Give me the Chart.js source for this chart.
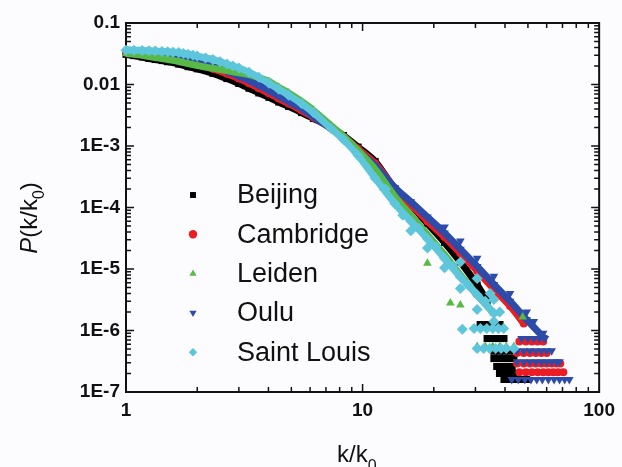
<!DOCTYPE html>
<html>
<head>
<meta charset="utf-8">
<script src="https://cdn.jsdelivr.net/npm/chart.js@4.4.1/dist/chart.umd.min.js"></script>
<style>
  html, body { margin: 0; padding: 0; background: #fcfcfe; }
  #wrap { width: 622px; height: 467px; }
</style>
</head>
<body>
<div id="wrap"><canvas id="c" width="622" height="467"></canvas></div>
<script>
(function() {
  'use strict';

  // ---- data: [k/k0, P(k/k0)] ----
  var seriesNames = ['Beijing', 'Cambridge', 'Leiden', 'Oulu', 'Saint Louis'];

  var beijing = [
    [1.00, 0.031], [1.08, 0.0295], [1.17, 0.028], [1.25, 0.0265], [1.33, 0.0255], [1.42, 0.0245],
    [1.50, 0.0235], [1.67, 0.0215], [1.83, 0.0195], [2.00, 0.018], [2.33, 0.0152], [2.67, 0.0125],
    [3.00, 0.0104], [3.31, 0.0087], [3.64, 0.0073], [4.02, 0.0062], [4.42, 0.0052], [4.87, 0.0044],
    [5.52, 0.0035], [6.2, 0.0028], [7.38, 0.0020], [8.3, 0.00148], [9.57, 9.6e-4], [11.3, 5.6e-4],
    [13.7, 2.0e-4], [16.0, 1.1e-4], [18.8, 5.5e-5], [22.2, 2.7e-5], [25.9, 1.3e-5], [30.5, 5.5e-6],
    [33.6, 3.0e-6]
  ];
  var beijingTail = [
    [31.4, 1.25e-6], [33.5, 1.25e-6], [35.8, 1.25e-6], [38.1, 1.25e-6],
    [33.6, 7.4e-7], [35.6, 7.4e-7], [37.6, 7.4e-7], [39.6, 7.4e-7],
    [35.9, 4.6e-7], [37.9, 4.6e-7], [39.9, 4.6e-7], [41.9, 4.6e-7],
    [35.9, 3.5e-7], [37.9, 3.5e-7], [39.9, 3.5e-7], [41.9, 3.5e-7], [43.6, 3.5e-7],
    [36.9, 2.6e-7], [38.9, 2.6e-7], [40.9, 2.6e-7], [42.9, 2.6e-7],
    [37.9, 2.0e-7], [39.9, 2.0e-7], [41.9, 2.0e-7], [43.6, 2.0e-7],
    [39.6, 1.6e-7], [41.9, 1.6e-7], [44.3, 1.6e-7], [46.8, 1.6e-7], [49.4, 1.6e-7]
  ];

  var cambridge = [
    [1.00, 0.0328], [1.08, 0.032], [1.17, 0.031], [1.25, 0.0298], [1.33, 0.0288], [1.42, 0.0278],
    [1.50, 0.027], [1.67, 0.025], [1.83, 0.023], [2.00, 0.0215], [2.33, 0.018], [2.67, 0.015],
    [3.00, 0.0125], [3.31, 0.0105], [3.64, 0.0087], [4.02, 0.0072], [4.42, 0.0059], [4.87, 0.0049],
    [5.52, 0.0038], [6.2, 0.0029], [7.38, 0.00195], [8.3, 0.00142], [9.57, 9.0e-4], [11.3, 5.2e-4],
    [13.7, 2.05e-4], [16.0, 1.12e-4], [18.8, 6.0e-5], [22.2, 3.3e-5], [25.9, 1.8e-5], [30.5, 9.3e-6],
    [35.9, 4.7e-6], [42.0, 2.5e-6], [48.0, 1.3e-6]
  ];
  var cambridgeTail = [
    [46, 6.6e-7], [49, 6.6e-7], [52, 6.6e-7], [55, 6.6e-7], [58, 6.6e-7],
    [45, 4.3e-7], [48, 4.3e-7], [51, 4.3e-7], [54, 4.3e-7], [57, 4.3e-7], [60, 4.3e-7],
    [45, 2.9e-7], [48, 2.9e-7], [51, 2.9e-7], [54, 2.9e-7], [57, 2.9e-7], [60, 2.9e-7], [63, 2.9e-7],
    [66, 2.9e-7], [68.5, 2.9e-7],
    [46, 2.1e-7], [49, 2.1e-7], [52, 2.1e-7], [55, 2.1e-7], [58, 2.1e-7], [61, 2.1e-7], [64, 2.1e-7],
    [67, 2.1e-7], [70.6, 2.1e-7]
  ];

  var leiden = [
    [1.00, 0.032], [1.08, 0.031], [1.17, 0.0298], [1.25, 0.0285], [1.33, 0.0275], [1.42, 0.0265],
    [1.50, 0.0255], [1.67, 0.0237], [1.83, 0.0218], [2.00, 0.0203], [2.33, 0.0183], [2.67, 0.0168],
    [3.00, 0.0155], [3.31, 0.0145], [3.64, 0.013], [4.02, 0.0112], [4.42, 0.009], [4.87, 0.0073],
    [5.52, 0.0053], [6.2, 0.0038], [7.38, 0.00212], [8.3, 0.00145], [9.57, 8.5e-4], [11.3, 4.2e-4],
    [13.7, 1.5e-4], [16.0, 7.5e-5], [18.8, 3.6e-5], [22.2, 1.7e-5], [25.9, 8.0e-6], [30.5, 3.8e-6],
    [35.9, 1.9e-6]
  ];
  var leidenTail = [
    [12.2, 2.1e-4], [13.9, 1.15e-4], [18.8, 1.24e-5], [23.5, 2.8e-6], [25.9, 2.6e-6], [47.5, 1.65e-6],
    [30.5, 5.5e-7], [33, 5.5e-7], [35.5, 5.5e-7], [38, 5.5e-7], [40.5, 5.5e-7], [43.6, 5.5e-7]
  ];

  var oulu = [
    [1.00, 0.0336], [1.08, 0.033], [1.17, 0.0322], [1.25, 0.031], [1.33, 0.030], [1.42, 0.029],
    [1.50, 0.0282], [1.67, 0.0265], [1.83, 0.0245], [2.00, 0.0233], [2.33, 0.0195], [2.67, 0.0164],
    [3.00, 0.0136], [3.31, 0.0117], [3.64, 0.0097], [4.02, 0.0080], [4.42, 0.0065], [4.87, 0.0053],
    [5.52, 0.0041], [6.2, 0.0030], [7.38, 0.0019], [8.3, 0.00137], [9.57, 8.4e-4], [11.3, 4.8e-4],
    [13.7, 2.1e-4], [16.0, 1.24e-4], [18.8, 7.0e-5], [22.2, 3.85e-5], [25.9, 2.1e-5], [30.5, 1.1e-5],
    [35.9, 5.6e-6], [42.0, 3.0e-6], [49.4, 1.5e-6], [58.2, 7.7e-7]
  ];
  var ouluTail = [
    [22.2, 4.8e-5], [25.9, 2.85e-5], [30.5, 1.5e-5], [35.9, 7.6e-6], [42.0, 4.0e-6], [49.4, 2.0e-6],
    [52.9, 1.4e-6], [58.0, 9.0e-7],
    [47, 7.4e-7], [50, 7.4e-7], [53, 7.4e-7], [56, 7.4e-7], [59, 7.4e-7],
    [45, 4.7e-7], [48, 4.7e-7], [51, 4.7e-7], [54, 4.7e-7], [57, 4.7e-7], [60, 4.7e-7], [63, 4.7e-7],
    [45, 3.1e-7], [48, 3.1e-7], [51, 3.1e-7], [54, 3.1e-7], [57, 3.1e-7], [60, 3.1e-7], [63, 3.1e-7],
    [66, 3.1e-7], [68, 3.1e-7],
    [42.7, 1.6e-7], [45.5, 1.6e-7], [48.5, 1.6e-7], [51.5, 1.6e-7], [54.5, 1.6e-7], [57.5, 1.6e-7],
    [61, 1.6e-7], [64.5, 1.6e-7], [68, 1.6e-7], [71.5, 1.6e-7], [74.8, 1.6e-7]
  ];

  var saintLouis = [
    [1.00, 0.036], [1.08, 0.036], [1.17, 0.0358], [1.25, 0.0355], [1.33, 0.035], [1.42, 0.0345],
    [1.50, 0.034], [1.58, 0.0335], [1.67, 0.033], [1.75, 0.032], [1.83, 0.031], [1.92, 0.030],
    [2.00, 0.029], [2.17, 0.027], [2.33, 0.0255], [2.50, 0.0235], [2.67, 0.0215], [2.83, 0.020],
    [3.00, 0.0185], [3.31, 0.0158], [3.64, 0.0131], [4.02, 0.0105], [4.42, 0.0084], [4.87, 0.0067],
    [5.52, 0.0049], [6.2, 0.0035], [7.38, 0.0019], [8.3, 0.00127], [9.57, 7.0e-4], [11.3, 3.0e-4],
    [13.7, 1.15e-4], [16.0, 6.0e-5], [18.8, 3.1e-5], [22.2, 1.5e-5], [25.9, 7.4e-6], [30.5, 3.8e-6],
    [35.9, 1.9e-6]
  ];
  var saintLouisTail = [
    [12.5, 2.0e-4], [14.8, 7.5e-5], [16.0, 4.2e-5], [17.3, 4.6e-5], [18.8, 2.2e-5], [20.4, 2.3e-5],
    [22.2, 1.05e-5], [24.0, 1.1e-5], [25.9, 4.8e-6], [30.5, 2.2e-6], [35.9, 1.4e-6],
    [25.9, 1.3e-5], [30.5, 7.0e-6], [35.9, 3.2e-6], [28, 5.5e-6], [33, 3.0e-6], [38, 2.0e-6],
    [26.4, 1.05e-6], [34.6, 4.0e-6],
    [29.6, 1.08e-6], [31.5, 1.08e-6], [33.5, 1.08e-6], [35.5, 1.08e-6], [37.5, 1.08e-6], [39.5, 1.08e-6],
    [30.5, 5.1e-7], [32.5, 5.1e-7], [34.5, 5.1e-7], [36.5, 5.1e-7], [38.5, 5.1e-7], [40.5, 5.1e-7],
    [43.6, 5.1e-7]
  ];

  var xTickValues = [1, 10, 100];
  var xTickLabels = ['1', '10', '100'];
  var yTickValues = [1e-7, 1e-6, 1e-5, 1e-4, 1e-3, 0.01, 0.1];
  var yTickLabels = ['1E-7', '1E-6', '1E-5', '1E-4', '1E-3', '0.01', '0.1'];

  // ---- styles ----
  var FONT = "'Liberation Sans', Arial, Helvetica, sans-serif";
  var INK = '#111111';
  var styles = [
    { color: '#000000', point: 'rect', rot: 0, r: 5, order: 5 },
    { color: '#ec1c24', point: 'circle', rot: 0, r: 4, order: 4 },
    { color: '#58b947', point: 'triangle', rot: 0, r: 5, order: 2 },
    { color: '#2d4ba8', point: 'triangle', rot: 180, r: 5, order: 3 },
    { color: '#5ec6da', point: 'rectRot', rot: 0, r: 5.5, order: 1 }
  ];
  var mains = [beijing, cambridge, leiden, oulu, saintLouis];
  var tails = [beijingTail, cambridgeTail, leidenTail, ouluTail, saintLouisTail];

  function toPoints(arr) {
    return arr.map(function(p) { return { x: p[0], y: p[1] }; });
  }

  var datasets = [];
  for (var i = 0; i < seriesNames.length; i++) {
    var s = styles[i];
    var common = {
      label: seriesNames[i],
      backgroundColor: s.color,
      borderColor: s.color,
      pointStyle: s.point,
      pointRotation: s.rot,
      pointRadius: s.r,
      pointBorderWidth: 0,
      order: s.order,
      clip: false
    };
    datasets.push(Object.assign({}, common, {
      data: toPoints(mains[i]),
      showLine: true,
      borderWidth: 7,
      tension: 0.3
    }));
    datasets.push(Object.assign({}, common, {
      label: seriesNames[i] + ' tail',
      data: toPoints(tails[i]),
      showLine: false
    }));
  }

  /** frame + inward ticks on all four sides, titles, legend */
  var framePlugin = {
    id: 'frame',
    beforeDatasetsDraw: function(chart) {
      var ctx = chart.ctx, a = chart.chartArea;
      var xs = chart.scales.x, ys = chart.scales.y;
      ctx.save();
      ctx.strokeStyle = INK;
      ctx.lineWidth = 1.5;
      ctx.beginPath();
      var e, m, v, p, len;
      for (e = 0; e < 2; e++) {
        for (m = 1; m <= 9; m++) {
          v = m * Math.pow(10, e);
          p = xs.getPixelForValue(v);
          len = m === 1 ? 8 : 5;
          ctx.moveTo(p, a.bottom); ctx.lineTo(p, a.bottom - len);
          ctx.moveTo(p, a.top); ctx.lineTo(p, a.top + len);
        }
      }
      for (e = -7; e < -1; e++) {
        for (m = 1; m <= 9; m++) {
          v = m * Math.pow(10, e);
          p = ys.getPixelForValue(v);
          len = m === 1 ? 8 : 5;
          ctx.moveTo(a.left, p); ctx.lineTo(a.left + len, p);
          ctx.moveTo(a.right, p); ctx.lineTo(a.right - len, p);
        }
      }
      ctx.stroke();
      ctx.lineWidth = 2;
      ctx.strokeRect(a.left, a.top, a.right - a.left, a.bottom - a.top);
      ctx.restore();
    },
    afterDraw: function(chart) {
      var ctx = chart.ctx;
      ctx.save();
      ctx.fillStyle = INK;

      // x title: k/k0
      ctx.textBaseline = 'alphabetic';
      ctx.textAlign = 'left';
      ctx.font = '24px ' + FONT;
      var w1 = ctx.measureText('k/k').width;
      ctx.fillText('k/k', 337, 462);
      ctx.font = '16px ' + FONT;
      ctx.fillText('0', 337 + w1, 471);

      // y title: P(k/k0)
      ctx.save();
      ctx.translate(37, 218);
      ctx.rotate(-Math.PI / 2);
      ctx.font = 'italic 24px ' + FONT;
      var wP = ctx.measureText('P').width;
      ctx.font = '24px ' + FONT;
      var wA = ctx.measureText('(k/k').width;
      var wB = ctx.measureText(')').width;
      ctx.font = '16px ' + FONT;
      var w0 = ctx.measureText('0').width;
      var x0 = -(wP + wA + w0 + wB) / 2;
      ctx.font = 'italic 24px ' + FONT;
      ctx.fillText('P', x0, 0);
      ctx.font = '24px ' + FONT;
      ctx.fillText('(k/k', x0 + wP, 0);
      ctx.font = '16px ' + FONT;
      ctx.fillText('0', x0 + wP + wA, 7);
      ctx.font = '24px ' + FONT;
      ctx.fillText(')', x0 + wP + wA + w0, 0);
      ctx.restore();

      // legend inside the plot
      ctx.font = '27px ' + FONT;
      ctx.textBaseline = 'middle';
      for (var j = 0; j < seriesNames.length; j++) {
        var ly = 195 + j * 39.3;
        ctx.fillStyle = styles[j].color;
        Chart.helpers.drawPoint(ctx, {
          pointStyle: styles[j].point, rotation: styles[j].rot, radius: 4.2, borderWidth: 0
        }, 193, ly);
        ctx.fillStyle = INK;
        ctx.fillText(seriesNames[j], 237, ly + 1);
      }
      ctx.restore();
    }
  };

  var tickFont = { family: FONT, size: 19, weight: 'bold' };

  new Chart(document.getElementById('c'), {
    type: 'scatter',
    data: { datasets: datasets },
    plugins: [framePlugin],
    options: {
      responsive: false,
      animation: false,
      devicePixelRatio: 1,
      events: [],
      layout: { padding: { top: 23, right: 18, left: 0, bottom: 0 } },
      plugins: { legend: { display: false }, tooltip: { enabled: false } },
      scales: {
        x: {
          type: 'logarithmic',
          min: 1,
          max: 100,
          grid: { display: false, drawTicks: false },
          border: { display: false },
          afterBuildTicks: function(scale) {
            scale.ticks = xTickValues.map(function(v) { return { value: v }; });
          },
          afterFit: function(scale) { scale.height = 75; },
          ticks: {
            autoSkip: false,
            maxRotation: 0,
            padding: 7,
            color: INK,
            font: tickFont,
            callback: function(v) {
              var idx = xTickValues.indexOf(v);
              return idx >= 0 ? xTickLabels[idx] : '';
            }
          }
        },
        y: {
          type: 'logarithmic',
          min: 1e-7,
          max: 0.1,
          grid: { display: false, drawTicks: false },
          border: { display: false },
          afterBuildTicks: function(scale) {
            scale.ticks = yTickValues.map(function(v) { return { value: v }; });
          },
          afterFit: function(scale) { scale.width = 126; },
          ticks: {
            autoSkip: false,
            padding: 6,
            color: INK,
            font: tickFont,
            callback: function(v) {
              for (var k = 0; k < yTickValues.length; k++) {
                if (Math.abs(Math.log10(v) - Math.log10(yTickValues[k])) < 1e-6) return yTickLabels[k];
              }
              return '';
            }
          }
        }
      }
    }
  });
})();
</script>
</body>
</html>
